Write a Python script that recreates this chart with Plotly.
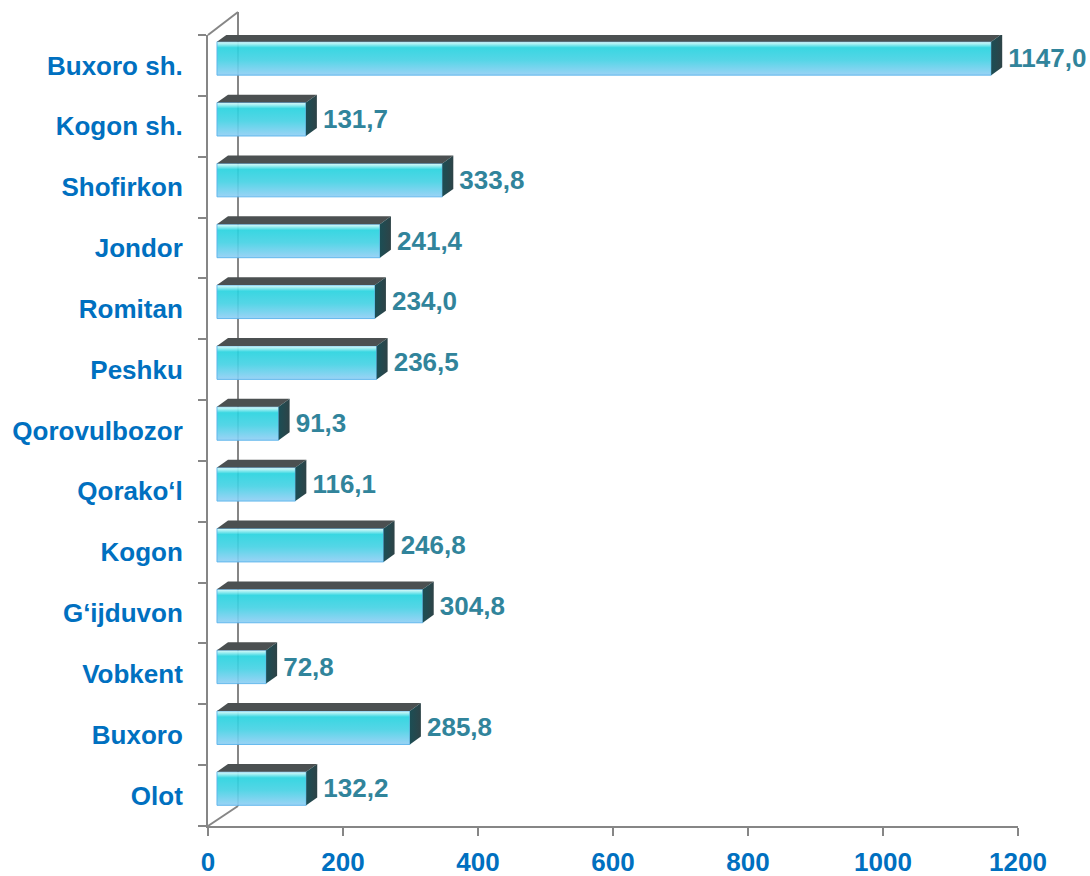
import plotly.graph_objects as go

# Ma'lumotlar
districts = ['Buxoro sh.', 'Kogon sh.', 'Shofirkon', 'Jondor', 'Romitan', 'Peshku',
             'Qorovulbozor', 'Qorako‘l', 'Kogon', 'G‘ijduvon', 'Vobkent', 'Buxoro', 'Olot']
values = [1147.0, 131.7, 333.8, 241.4, 234.0, 236.5, 91.3, 116.1, 246.8, 304.8, 72.8, 285.8, 132.2]
value_labels = ['1147,0', '131,7', '333,8', '241,4', '234,0', '236,5', '91,3',
                '116,1', '246,8', '304,8', '72,8', '285,8', '132,2']
x_ticks = [0, 200, 400, 600, 800, 1000, 1200]

# 3D ko'rinish parametrlari (ma'lumot birliklarida)
X0 = 13.3       # old yuzaning boshlanishi
DX = 16.3       # chuqurlik (x)
DY = 0.13       # chuqurlik (y)
Y_LO, Y_HI = -0.16, 0.39

BLUE = '#0070C0'
TEAL = '#31849B'
GRAY = '#868686'
FONT = 'Liberation Sans, Arial, sans-serif'

n = len(districts)
centers = [n - 1 - i for i in range(n)]

fig = go.Figure()

for c, v in zip(centers, values):
    x1 = X0 + v
    # old yuza
    fig.add_trace(go.Scatter(
        x=[X0, x1, x1, X0, X0], y=[c + Y_LO, c + Y_LO, c + Y_HI, c + Y_HI, c + Y_LO],
        mode='lines', fill='toself', line=dict(width=1, color='rgba(90,180,235,0.9)'),
        fillgradient=dict(type='vertical', colorscale=[
            [0.0, 'rgba(146,207,245,0.92)'], [0.45, 'rgba(70,210,228,0.92)'],
            [0.82, 'rgba(40,211,223,0.92)'], [0.92, 'rgba(150,236,240,0.95)'],
            [1.0, 'rgba(225,250,250,0.95)']]),
        hoverinfo='skip', showlegend=False))
    # ustki yuza
    fig.add_trace(go.Scatter(
        x=[X0, x1, x1 + DX, X0 + DX, X0],
        y=[c + Y_HI, c + Y_HI, c + Y_HI + DY, c + Y_HI + DY, c + Y_HI],
        mode='lines', fill='toself', fillcolor='#4B5051', line=dict(width=0),
        hoverinfo='skip', showlegend=False))
    # yon yuza
    fig.add_trace(go.Scatter(
        x=[x1, x1 + DX, x1 + DX, x1, x1],
        y=[c + Y_LO, c + Y_LO + DY, c + Y_HI + DY, c + Y_HI, c + Y_LO],
        mode='lines', fill='toself', line=dict(width=0),
        fillgradient=dict(type='horizontal', colorscale=[[0, '#1B4E55'], [1, '#2E4347']]),
        hoverinfo='skip', showlegend=False))

# qiymat yorliqlari
fig.add_trace(go.Scatter(
    x=[X0 + v + DX + 9 for v in values], y=[c + 0.08 for c in centers],
    mode='text', text=value_labels, textposition='middle right',
    textfont=dict(family=FONT, size=26, color=TEAL, weight='bold'),
    cliponaxis=False, hoverinfo='skip', showlegend=False))

# orqa devor chiziqlari (bezak)
plot_w, plot_h = 810, 791
bx = 30 / plot_w
shapes = [
    dict(type='line', xref='paper', yref='paper', x0=0, y0=0, x1=bx, y1=20 / plot_h,
         line=dict(color=GRAY, width=2), layer='below'),
    dict(type='line', xref='paper', yref='paper', x0=bx, y0=20 / plot_h, x1=bx, y1=1 + 23 / plot_h,
         line=dict(color=GRAY, width=2), layer='below'),
    dict(type='line', xref='paper', yref='paper', x0=0, y0=1, x1=bx, y1=1 + 23 / plot_h,
         line=dict(color=GRAY, width=2), layer='below'),
]

fig.update_layout(
    width=1090, height=876,
    margin=dict(l=208, r=72, t=35, b=50, autoexpand=False),
    plot_bgcolor='white', paper_bgcolor='white',
    shapes=shapes,
    xaxis=dict(range=[0, 1200], tickvals=x_ticks, showgrid=False, zeroline=False,
               automargin=False,
               showline=True, linecolor=GRAY, linewidth=2,
               ticks='outside', ticklen=8, tickwidth=2, tickcolor=GRAY,
               ticklabelstandoff=4,
               tickfont=dict(family=FONT, size=26, color=BLUE, weight='bold')),
    yaxis=dict(range=[-0.5, n - 0.5], tickvals=centers, ticktext=districts,
               automargin=False,
               showgrid=False, zeroline=False, showline=True, linecolor=GRAY, linewidth=2,
               ticks='', ticklabelstandoff=18,
               minor=dict(tick0=-0.5, dtick=1, ticks='outside', ticklen=8,
                          tickwidth=2, tickcolor=GRAY, showgrid=False),
               tickfont=dict(family=FONT, size=26, color=BLUE, weight='bold')),
)

# sahifaning standart 8px chekkasini olib tashlash
fig.write_html('out.html', config={'displayModeBar': False},
               post_script="document.body.style.margin='0';"
                           "document.body.style.overflow='hidden';")
